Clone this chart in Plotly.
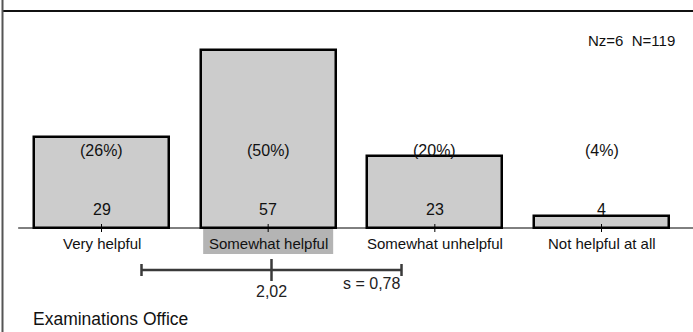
import plotly.graph_objects as go

# ---- data ----
categories = ["Very helpful", "Somewhat helpful", "Somewhat unhelpful", "Not helpful at all"]
counts = [29, 57, 23, 4]
percent_labels = ["(26%)", "(50%)", "(20%)", "(4%)"]
mean_value = 2.02
std_value = 0.78
mean_label = "2,02"
std_label = "s = 0,78"
n_label = "Nz=6  N=119"
title_text = "Examinations Office"

positions = list(range(1, len(categories) + 1))

FONT = "Arial, Liberation Sans, sans-serif"
W, H = 693, 332

fig = go.Figure()
fig.add_trace(go.Bar(
    x=positions, y=counts, width=0.81,
    marker=dict(color="#cccccc", line=dict(color="#000000", width=2.5)),
    hoverinfo="skip",
))

shapes = []
annotations = []

# baseline
shapes.append(dict(type="line", xref="x", yref="y", x0=0.5, x1=4.6, y0=0, y1=0,
                   line=dict(color="#000000", width=1)))
# category ticks
for p in positions:
    shapes.append(dict(type="line", xref="x", yref="y", ysizemode="pixel", yanchor=0,
                       x0=p, x1=p, y0=-4, y1=4, line=dict(color="#000000", width=1)))

# highlight of category containing the mean
hi = round(mean_value)
shapes.append(dict(type="rect", xref="x", yref="y", ysizemode="pixel", yanchor=0,
                   x0=hi - 0.39, x1=hi + 0.39, y0=-1, y1=-26,
                   fillcolor="#b4b4b4", line=dict(width=0), layer="below"))

# mean / std bar
mcol = "#3a3a3a"
shapes.append(dict(type="line", xref="x", yref="y", ysizemode="pixel", yanchor=0,
                   x0=mean_value - std_value, x1=mean_value + std_value, y0=-42, y1=-42,
                   line=dict(color=mcol, width=2.5)))
for xe in (mean_value - std_value, mean_value + std_value):
    shapes.append(dict(type="line", xref="x", yref="y", ysizemode="pixel", yanchor=0,
                       x0=xe, x1=xe, y0=-36, y1=-48, line=dict(color=mcol, width=2.5)))
shapes.append(dict(type="line", xref="x", yref="y", ysizemode="pixel", yanchor=0,
                   x0=mean_value, x1=mean_value, y0=-31, y1=-53,
                   line=dict(color=mcol, width=2.5)))

# frame lines
shapes.append(dict(type="line", xref="paper", yref="paper", x0=0.004, x1=1,
                   y0=1 - 11 / H, y1=1 - 11 / H, line=dict(color="#111111", width=2)))
shapes.append(dict(type="line", xref="paper", yref="paper", x0=2.5 / W, x1=2.5 / W,
                   y0=0, y1=1, line=dict(color="#555555", width=2)))

for p, c, pl, cat in zip(positions, counts, percent_labels, categories):
    annotations.append(dict(x=p, y=0, xref="x", yref="y", yshift=78, text=pl,
                            showarrow=False, yanchor="middle",
                            font=dict(family=FONT, size=16, color="#111111")))
    annotations.append(dict(x=p, y=0, xref="x", yref="y", yshift=19, text=str(c),
                            showarrow=False, yanchor="middle",
                            font=dict(family=FONT, size=16, color="#111111")))
    annotations.append(dict(x=p, y=0, xref="x", yref="y", yshift=-15, text=cat,
                            showarrow=False, yanchor="middle",
                            font=dict(family=FONT, size=15, color="#111111")))

annotations.append(dict(x=mean_value, y=0, xref="x", yref="y", yshift=-63, text=mean_label,
                        showarrow=False, yanchor="middle",
                        font=dict(family=FONT, size=16, color="#222222")))
annotations.append(dict(x=mean_value + std_value, y=0, xref="x", yref="y", yshift=-55,
                        xanchor="right", text=std_label, showarrow=False, yanchor="middle",
                        font=dict(family=FONT, size=16, color="#222222")))
annotations.append(dict(x=677 / W, y=1 - 41 / H, xref="paper", yref="paper", text=n_label,
                        showarrow=False, xanchor="right", yanchor="middle",
                        font=dict(family=FONT, size=15, color="#111111")))
annotations.append(dict(x=31 / W, y=1 - 319 / H, xref="paper", yref="paper", text=title_text,
                        showarrow=False, xanchor="left", yanchor="middle",
                        font=dict(family=FONT, size=17.5, color="#111111")))

PXU = 178 / 57
fig.update_layout(
    width=W, height=H, autosize=False,
    margin=dict(l=0, r=0, t=0, b=0, pad=0),
    paper_bgcolor="white", plot_bgcolor="white",
    showlegend=False,
    xaxis=dict(range=[1 - 101.5 / 166.67, 1 + (W - 101.5) / 166.67], visible=False, fixedrange=True),
    yaxis=dict(range=[-(H - 228) / PXU, 228 / PXU], visible=False, fixedrange=True),
    shapes=shapes, annotations=annotations,
    bargap=0,
)

fig.write_html("out.html", config={"displayModeBar": False},
               post_script="document.body.style.margin='0';document.body.style.overflow='hidden';")
